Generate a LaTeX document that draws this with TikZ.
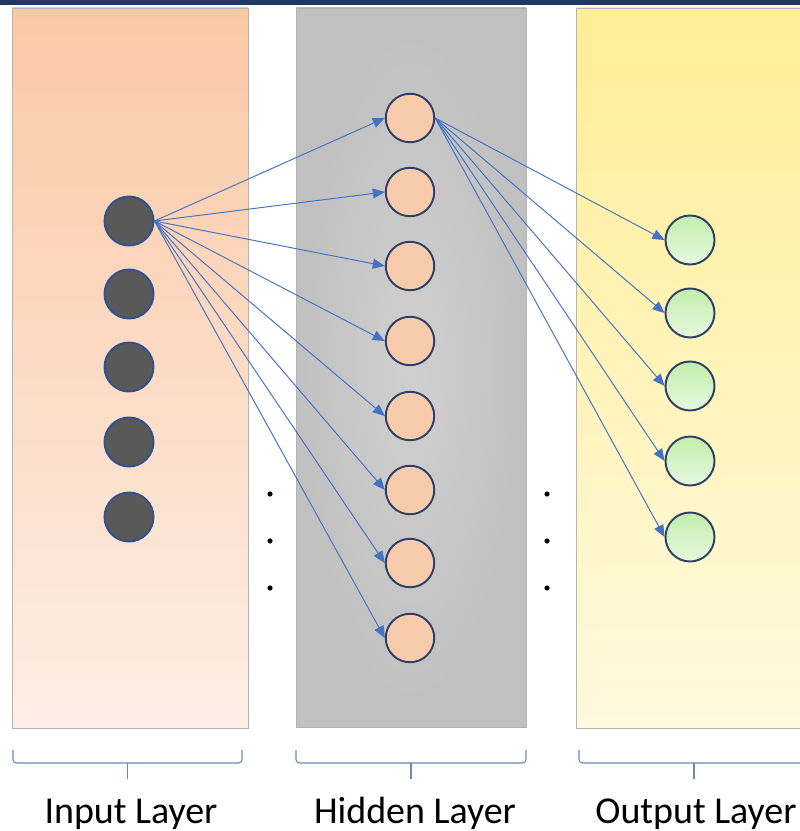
\documentclass[tikz,border=0pt]{standalone}
\usepackage{fontspec}
\setmainfont{Carlito}
\usepackage{tikz}
\usetikzlibrary{arrows.meta,positioning}

\definecolor{bandnavy}{HTML}{1F3864}
\definecolor{inTop}{HTML}{FBC8A4}
\definecolor{inBot}{HTML}{FDEEE5}
\definecolor{hidOut}{HTML}{C0C0C0}
\definecolor{hidIn}{HTML}{D0D0D0}
\definecolor{outTop}{HTML}{FFEE96}
\definecolor{outBot}{HTML}{FFF9DE}
\definecolor{panelline}{HTML}{B4B4B4}
\definecolor{inFill}{HTML}{595959}
\definecolor{inDraw}{HTML}{2F528F}
\definecolor{hidFill}{HTML}{F8CBAD}
\definecolor{nodeDraw}{HTML}{2F3F66}
\definecolor{grTop}{HTML}{C3EEAB}
\definecolor{grBot}{HTML}{E6F8E0}
\definecolor{edgeblue}{HTML}{4472C4}
\definecolor{bracecol}{HTML}{6A8AB5}

\begin{document}
\begin{tikzpicture}[x=0.02cm, y=-0.02cm,
    inneuron/.style={circle, draw=inDraw, line width=1.1pt, fill=inFill, minimum size=0.98cm, inner sep=0pt},
    hidneuron/.style={circle, draw=nodeDraw, line width=1.1pt, fill=hidFill, minimum size=0.97cm, inner sep=0pt},
    outneuron/.style={circle, draw=nodeDraw, line width=1.1pt, top color=grTop, bottom color=grBot, minimum size=0.98cm, inner sep=0pt},
    link/.style={draw=edgeblue, line width=0.55pt, -{Triangle[length=0.24cm, width=0.2cm]}},
    bracket/.style={draw=bracecol, line width=0.6pt, rounded corners=2pt},
    layername/.style={anchor=base, font=\fontsize{21.6}{26}\selectfont}]
    \clip (0,0) rectangle (800,831);
    \fill[white] (0,0) rectangle (800,831);
    \fill[bandnavy] (0,0) rectangle (800,5);

    % layer panels
    \shade[top color=inTop, bottom color=inBot, draw=panelline, line width=0.5pt] (12,8) rectangle (248,728);
    \shade[inner color=hidIn, outer color=hidOut, draw=panelline, line width=0.5pt] (296,8) rectangle (526,727);
    \shade[top color=outTop, bottom color=outBot, draw=panelline, line width=0.5pt] (576,8) rectangle (812,728);

    % input layer
    \node[inneuron] (i1) at (129,221) {};
    \node[inneuron] (i2) at (129,294) {};
    \node[inneuron] (i3) at (129,367) {};
    \node[inneuron] (i4) at (129,442) {};
    \node[inneuron] (i5) at (129,517) {};

    % hidden layer
    \node[hidneuron] (h1) at (410,118) {};
    \node[hidneuron] (h2) at (410,192) {};
    \node[hidneuron] (h3) at (410,266) {};
    \node[hidneuron] (h4) at (410,341) {};
    \node[hidneuron] (h5) at (410,416) {};
    \node[hidneuron] (h6) at (410,490) {};
    \node[hidneuron] (h7) at (410,563) {};
    \node[hidneuron] (h8) at (410,638) {};

    % output layer
    \node[outneuron] (o1) at (690,240) {};
    \node[outneuron] (o2) at (690,313) {};
    \node[outneuron] (o3) at (690,386) {};
    \node[outneuron] (o4) at (690,461) {};
    \node[outneuron] (o5) at (690,537) {};

    \draw[link] (i1.east) -- (h1.west);
    \draw[link] (i1.east) -- (h2.west);
    \draw[link] (i1.east) -- (h3.west);
    \draw[link] (i1.east) -- (h4.west);
    \draw[link] (i1.east) -- (h5.west);
    \draw[link] (i1.east) -- (h6.west);
    \draw[link] (i1.east) -- (h7.west);
    \draw[link] (i1.east) -- (h8.west);

    \draw[link] (h1.east) -- (o1.west);
    \draw[link] (h1.east) -- (o2.west);
    \draw[link] (h1.east) -- (o3.west);
    \draw[link] (h1.east) -- (o4.west);
    \draw[link] (h1.east) -- (o5.west);

    % dots between panels
    \fill (270,494) circle (2.6);
    \fill (270,541) circle (2.6);
    \fill (270,588) circle (2.6);
    \fill (547,494) circle (2.6);
    \fill (547,541) circle (2.6);
    \fill (547,588) circle (2.6);

    % brackets and names
    \draw[bracket] (13,750) -- (13,763) -- (242,763) -- (242,750);
    \draw[bracecol, line width=0.6pt] (127.5,763) -- (127.5,779);
    \draw[bracket] (296,750) -- (296,763) -- (526,763) -- (526,750);
    \draw[bracecol, line width=0.6pt] (411,763) -- (411,779);
    \draw[bracket] (579,750) -- (579,763) -- (812,763);
    \draw[bracecol, line width=0.6pt] (694,763) -- (694,779);

    \node[layername] (lin) at (131,823) {Input Layer};
    \node[layername] (lhid) at (415,823) {Hidden Layer};
    \node[layername] (lout) at (696,823) {Output Layer};
\end{tikzpicture}
\end{document}
